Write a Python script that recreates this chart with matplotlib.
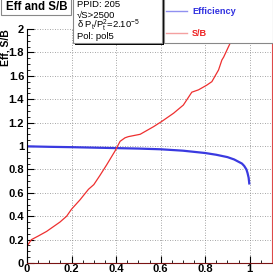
import numpy as np
import matplotlib
matplotlib.use("Agg")
import matplotlib.pyplot as plt
from matplotlib.patches import Rectangle
from matplotlib.ticker import MultipleLocator

plt.rcParams['font.family'] = ['Liberation Sans', 'DejaVu Sans']
plt.rcParams['mathtext.fontset'] = 'custom'
plt.rcParams['mathtext.rm'] = 'Liberation Sans'
plt.rcParams['mathtext.it'] = 'Liberation Sans:italic'

# efficiency curve
eff_x = [0.0, 0.1, 0.2, 0.3, 0.4, 0.5, 0.6, 0.7, 0.8, 0.85, 0.9, 0.93, 0.95,
         0.965, 0.975, 0.985, 0.99, 0.995, 0.998]
eff_y = [0.997, 0.993, 0.99, 0.986, 0.982, 0.978, 0.972, 0.96, 0.94, 0.925,
         0.905, 0.885, 0.865, 0.85, 0.83, 0.80, 0.77, 0.73, 0.68]

# signal over background
sb_x = [0.002, 0.02, 0.05, 0.088, 0.148, 0.178, 0.2, 0.238, 0.276, 0.3, 0.328,
        0.358, 0.396, 0.418, 0.44, 0.455, 0.508, 0.568, 0.605, 0.658, 0.702,
        0.74, 0.77, 0.807, 0.83, 0.86, 0.875, 0.883, 0.905, 0.93, 0.95]
sb_y = [0.15, 0.2, 0.23, 0.27, 0.35, 0.40, 0.46, 0.54, 0.63, 0.67, 0.75,
        0.84, 0.96, 1.04, 1.07, 1.08, 1.10, 1.165, 1.21, 1.28, 1.35,
        1.46, 1.48, 1.52, 1.55, 1.65, 1.735, 1.76, 1.85, 1.95, 2.05]

info_lines = ["PPID: 205", "\u221aS>2500",
              "\u03b4 P$_{\\rm t}$/P$_{\\rm t}^{2}$=2.10$^{-5}$", "Pol: pol5"]

W, H = 273, 274
fig = plt.figure(figsize=(W / 100, H / 100), dpi=100)
ax = fig.add_axes([27 / W, 1 - 263 / H, 245 / W, 234 / H])

ax.plot(eff_x, eff_y, color='#3a3ae0', lw=1.6)
ax.plot(sb_x, sb_y, color='#ee3030', lw=0.9)

ax.set_xlim(0, 1.1)
ax.set_ylim(0, 2)
ax.xaxis.set_minor_locator(MultipleLocator(0.05))
ax.yaxis.set_minor_locator(MultipleLocator(0.05))
ax.set_xticks([0, 0.2, 0.4, 0.6, 0.8, 1.0])
ax.set_xticklabels(['0', '0.2', '0.4', '0.6', '0.8', '1'])
ax.set_yticks([0, 0.2, 0.4, 0.6, 0.8, 1.0, 1.2, 1.4, 1.6, 1.8, 2.0])
ax.set_yticklabels(['0', '0.2', '0.4', '0.6', '0.8', '1', '1.2', '1.4', '1.6', '1.8', '2'])
ax.tick_params(which='both', direction='in', labelsize=8)
ax.tick_params(which='major', length=5, width=0.8)
ax.tick_params(which='minor', length=2.5, width=0.6)
ax.tick_params(axis='x', pad=1)
ax.tick_params(axis='y', pad=2)
for lab in ax.get_xticklabels() + ax.get_yticklabels():
    lab.set_fontweight('bold')
ax.grid(True, which='major', color='#888888', linestyle=(0, (1, 2)), lw=0.6)

ax.spines['top'].set_visible(False)
ax.spines['left'].set_color('black')
ax.spines['bottom'].set_color('#7a1414')
ax.spines['right'].set_color('#dd4a4a')

fig.text(5 / W, 1 - 29 / H, 'Eff, S/B', rotation=90, ha='center', va='top',
         fontsize=7.5, fontweight='bold')

def px_rect(x0, y0, x1, y1, **kw):
    r = Rectangle((x0 / W, 1 - y1 / H), (x1 - x0) / W, (y1 - y0) / H,
                  transform=fig.transFigure, **kw)
    fig.patches.append(r)

# title box
px_rect(1, -2, 71, 15, facecolor='white', edgecolor='#888888', lw=0.8, zorder=5)
fig.text(37 / W, 1 - 7.5 / H, 'Eff and S/B', ha='center', va='center',
         fontsize=8.3, fontweight='bold', zorder=6)

# info box with shadow
px_rect(75, -2, 164, 45, facecolor='black', edgecolor='black', lw=0, zorder=5)
px_rect(73, -2, 162, 43, facecolor='white', edgecolor='#888888', lw=0.8, zorder=5)
for i, s in enumerate(info_lines):
    fig.text(77 / W, 1 - (7 + 10.6 * i) / H, s, ha='left', va='baseline',
             fontsize=6.8, zorder=6)

# legend box
px_rect(164, -2, 273, 43, facecolor='white', edgecolor='#888888', lw=0.8, zorder=5)
for yy, col, lcol, name in [(11, '#3030e0', '#9090f0', 'Efficiency'),
                            (33, '#ee2020', '#f4a0a0', 'S/B')]:
    fig.lines.append(plt.Line2D([166 / W, 187 / W], [1 - yy / H, 1 - yy / H],
                                transform=fig.transFigure, color=lcol, lw=1.0,
                                zorder=6))
    fig.text(192 / W, 1 - yy / H, name, ha='left', va='center', fontsize=6.6,
             fontweight='bold', color=col, zorder=6)

fig.savefig('out.png', dpi=100)
